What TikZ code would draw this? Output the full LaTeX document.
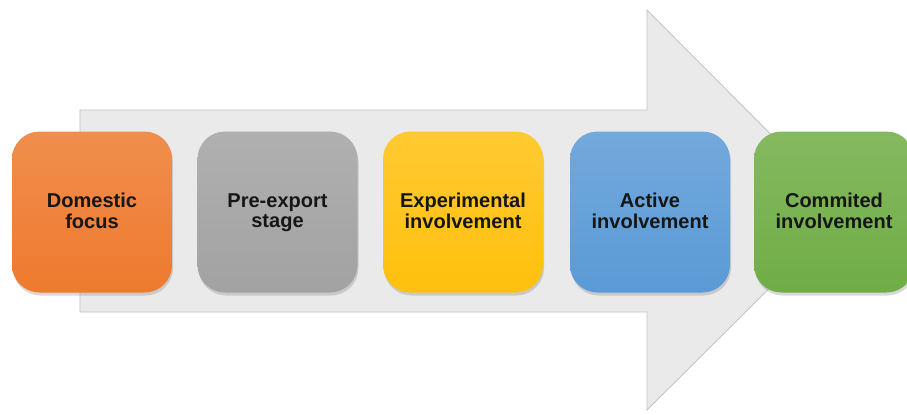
\documentclass[tikz,border=0pt]{standalone}
\usepackage{fontspec}
\setmainfont{Liberation Sans}
\usepackage{xcolor}
\usepackage{tikz}
\usetikzlibrary{shadows}
\definecolor{ink}{HTML}{161616}
\definecolor{arrowfill}{HTML}{EAEAEA}
\definecolor{arrowedge}{HTML}{C4C4C4}
\definecolor{orange}{HTML}{EE7A2E}
\definecolor{grey}{HTML}{A2A2A2}
\definecolor{yellow}{HTML}{FFC00D}
\definecolor{blue}{HTML}{5A9AD6}
\definecolor{green}{HTML}{6FAD45}
\tikzset{
  flow/.style={fill=arrowfill, draw=arrowedge, line width=0.5pt, line join=miter},
  stage/.style={rounded corners=0.55cm, minimum width=3.2cm, minimum height=3.22cm,
    inner sep=0pt, align=center, text=ink, text depth=0.05cm,
    font=\fontsize{11.4}{11.5}\selectfont\bfseries,
    drop shadow={opacity=0.3, shadow xshift=0.02cm, shadow yshift=-0.06cm}},
}
\begin{document}
\begin{tikzpicture}
  \useasboundingbox (0,0) rectangle (18.14,8.28);
  % big arrow behind the stages
  \draw[flow] (1.6,2.04) -- (1.6,6.08) -- (12.94,6.08) -- (12.94,8.08)
    -- (16.94,4.06) -- (12.94,0.08) -- (12.94,2.04) -- cycle;

  \node[stage, top color=orange!85!white, bottom color=orange] (domestic) at (1.84,4.04) {Domestic\\focus};
  \node[stage, top color=grey!85!white, bottom color=grey] (preexport) at (5.55,4.04) {Pre-export\\stage};
  \node[stage, top color=yellow!85!white, bottom color=yellow] (experimental) at (9.26,4.04) {Experimental\\involvement};
  \node[stage, top color=blue!85!white, bottom color=blue] (active) at (13.0,4.04) {Active\\involvement};
  \node[stage, top color=green!85!white, bottom color=green] (commited) at (16.68,4.04) {Commited\\involvement};
\end{tikzpicture}
\end{document}
